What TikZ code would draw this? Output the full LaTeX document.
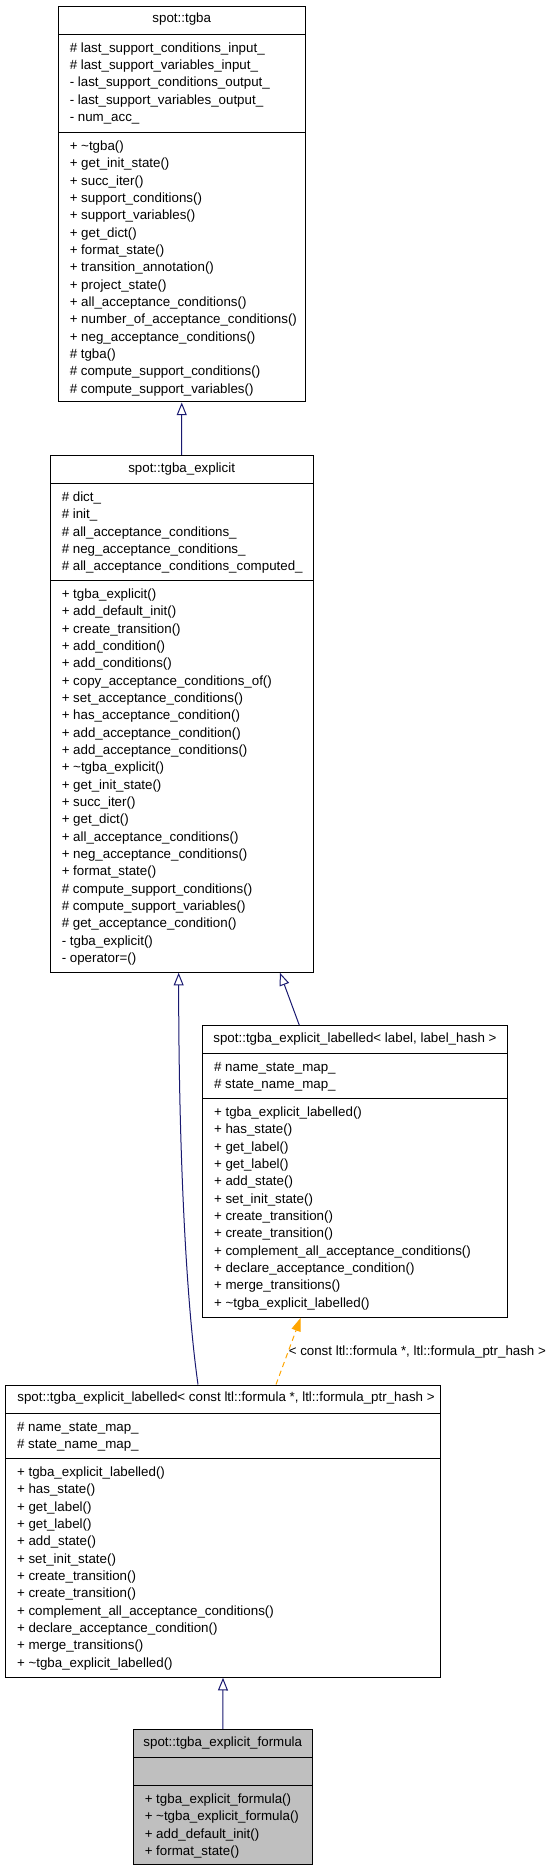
\documentclass[tikz,border=0pt]{standalone}
\usepackage{fontspec}
\setmainfont{Liberation Sans}
\usetikzlibrary{arrows.meta,calc,fit}

\definecolor{edgeblue}{HTML}{191970}
\definecolor{edgeorange}{HTML}{FFA500}
\definecolor{boxgray}{HTML}{BFBFBF}

\newcommand{\labelledops}{+ tgba\_explicit\_labelled(), + has\_state(), + get\_label(), + get\_label(), + add\_state(), + set\_init\_state(), + create\_transition(), + create\_transition(), + complement\_all\_acceptance\_conditions(), + declare\_acceptance\_condition(), + merge\_transitions(), + \textasciitilde tgba\_explicit\_labelled()}

\begin{document}
\begin{tikzpicture}[x=0.75pt, y=-0.75pt,
    classbox/.style={draw, inner sep=0pt, line width=0.75pt},
    member/.style={anchor=base west, inner sep=0pt, font=\fontsize{10}{12}\selectfont},
    title/.style={anchor=base, inner sep=0pt, font=\fontsize{10}{12}\selectfont},
    inherit/.style={draw=edgeblue, line width=0.75pt, -{Triangle[open, length=9.5pt, width=7.5pt]}},
    tmpl/.style={draw=edgeorange, line width=0.75pt, dash pattern=on 4pt off 3pt, -{Triangle[length=10pt, width=7pt]}}]
    \useasboundingbox (0,0) rectangle (547,1872);

    % spot::tgba
    \node[classbox, fit={(58,6.5) (305.5,402)}] (tgba) {};
    \draw (58,34) -- (305.5,34);
    \draw (58,132) -- (305.5,132);
    \node[title] (tgba-t) at (181.75,23) {spot::tgba};
    \foreach \m [count=\i from 0] in {\# last\_support\_conditions\_input\_, \# last\_support\_variables\_input\_, - last\_support\_conditions\_output\_, - last\_support\_variables\_output\_, - num\_acc\_}
        \node[member] (tgba-a\i) at (69.5, 52.3+17.33*\i) {\m};
    \foreach \m [count=\i from 0] in {+ \textasciitilde tgba(), + get\_init\_state(), + succ\_iter(), + support\_conditions(), + support\_variables(), + get\_dict(), + format\_state(), + transition\_annotation(), + project\_state(), + all\_acceptance\_conditions(), + number\_of\_acceptance\_conditions(), + neg\_acceptance\_conditions(), \# tgba(), \# compute\_support\_conditions(), \# compute\_support\_variables()}
        \node[member] (tgba-m\i) at (69.5, 150.5+17.33*\i) {\m};

    % spot::tgba_explicit
    \node[classbox, fit={(50,455.3) (313.3,972.3)}] (explicit) {};
    \draw (50,483.3) -- (313.3,483.3);
    \draw (50,580.3) -- (313.3,580.3);
    \node[title] (explicit-t) at (181.65,472) {spot::tgba\_explicit};
    \foreach \m [count=\i from 0] in {\# dict\_, \# init\_, \# all\_acceptance\_conditions\_, \# neg\_acceptance\_conditions\_, \# all\_acceptance\_conditions\_computed\_}
        \node[member] (explicit-a\i) at (61.5, 501.5+17.33*\i) {\m};
    \foreach \m [count=\i from 0] in {+ tgba\_explicit(), + add\_default\_init(), + create\_transition(), + add\_condition(), + add\_conditions(), + copy\_acceptance\_conditions\_of(), + set\_acceptance\_conditions(), + has\_acceptance\_condition(), + add\_acceptance\_condition(), + add\_acceptance\_conditions(), + \textasciitilde tgba\_explicit(), + get\_init\_state(), + succ\_iter(), + get\_dict(), + all\_acceptance\_conditions(), + neg\_acceptance\_conditions(), + format\_state(), \# compute\_support\_conditions(), \# compute\_support\_variables(), \# get\_acceptance\_condition(), - tgba\_explicit(), - operator=()}
        \node[member] (explicit-m\i) at (61.5, 598.5+17.33*\i) {\m};

    % spot::tgba_explicit_labelled< label, label_hash >
    \node[classbox, fit={(202.3,1025.7) (507.7,1317.3)}] (labelled) {};
    \draw (202.3,1053.3) -- (507.7,1053.3);
    \draw (202.3,1098.7) -- (507.7,1098.7);
    \node[title] (labelled-t) at (355,1042.2) {spot::tgba\_explicit\_labelled< label, label\_hash >};
    \foreach \m [count=\i from 0] in {\# name\_state\_map\_, \# state\_name\_map\_}
        \node[member] (labelled-a\i) at (213.8, 1071.3+17.33*\i) {\m};
    \foreach \m [count=\i from 0] in \labelledops
        \node[member] (labelled-m\i) at (213.8, 1116.4+17.33*\i) {\m};

    % spot::tgba_explicit_labelled< const ltl::formula *, ltl::formula_ptr_hash >
    \node[classbox, fit={(5.3,1385) (440.7,1677.3)}] (fmlabelled) {};
    \draw (5.3,1413.3) -- (440.7,1413.3);
    \draw (5.3,1458.7) -- (440.7,1458.7);
    \node[title] (fmlabelled-t) at (226,1401.8) {spot::tgba\_explicit\_labelled< const ltl::formula *, ltl::formula\_ptr\_hash >};
    \foreach \m [count=\i from 0] in {\# name\_state\_map\_, \# state\_name\_map\_}
        \node[member] (fmlabelled-a\i) at (16.8, 1431.2+17.33*\i) {\m};
    \foreach \m [count=\i from 0] in \labelledops
        \node[member] (fmlabelled-m\i) at (16.8, 1476.4+17.33*\i) {\m};

    % spot::tgba_explicit_formula
    \node[classbox, fill=boxgray, fit={(133.3,1729.3) (312.3,1864.7)}] (formula) {};
    \draw (133.3,1757.7) -- (312.3,1757.7);
    \draw (133.3,1785.7) -- (312.3,1785.7);
    \node[title] (formula-t) at (222.8,1746.5) {spot::tgba\_explicit\_formula};
    \foreach \m [count=\i from 0] in {+ tgba\_explicit\_formula(), + \textasciitilde tgba\_explicit\_formula(), + add\_default\_init(), + format\_state()}
        \node[member] (formula-m\i) at (144.5, 1803.4+17.33*\i) {\m};

    % inheritance
    \draw[inherit] (explicit.north) -- (tgba.south);
    \draw[inherit] ($(labelled.north)+(-55.7,0)$) -- ($(explicit.south)+(98.3,0)$);
    \draw[inherit] ($(fmlabelled.north)+(-25,0)$) .. controls (186,1300) and (178.7,1150) .. ($(explicit.south)+(-3,0)$);
    \draw[tmpl] ($(fmlabelled.north)+(53,0)$) -- ($(labelled.south)+(-54.3,0)$);
    \node[member] (tmpl-label) at (288.5,1355) {< const ltl::formula *, ltl::formula\_ptr\_hash >};
    \draw[inherit] (formula.north) -- (fmlabelled.south);
\end{tikzpicture}
\end{document}
